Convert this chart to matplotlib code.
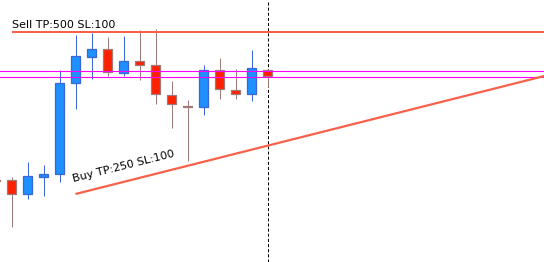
import matplotlib
matplotlib.use("Agg")
import matplotlib.pyplot as plt

# candle index and OHLC (price units)
idx = [-1, 0, 1, 2, 3, 4, 5, 6, 7, 8, 9, 10, 11, 12, 13, 14, 15, 16]
opens = [82, 82, 68, 85, 88, 179, 205, 213, 189, 201, 197, 167, 156.5, 155, 192, 172, 168, 192]
highs = [83, 85, 100, 97, 192, 227, 229, 225, 226, 232, 233, 181, 162, 197, 204, 193, 212, 192]
lows = [81, 35, 63, 66, 80, 153, 183, 186, 186, 182, 158, 134, 101, 147, 163, 163, 161, 175]
closes = [81.5, 68, 86, 88, 179, 206, 213, 190, 201, 197, 168, 158, 155.5, 192, 173, 168, 194, 186]

sell_level = 230
magenta_levels = [191.5, 185.5]
buy_x = [4, 34]
buy_y = [68, 188.8]
cursor_idx = 16

up_face, up_edge = "#1E90FF", "#3A66DC"
dn_face, dn_edge = "#FF2000", "#A07A78"
line_red = "#F9604A"

plt.rcParams["lines.scale_dashes"] = False
fig = plt.figure(figsize=(5.44, 2.62), dpi=100)
ax = fig.add_axes([0, 0, 1, 1])
ax.set_xlim(-11.5 / 16, 532.5 / 16)
ax.set_ylim(0, 262)
ax.axis("off")

# cursor line
ax.axvline(cursor_idx, color="black", lw=0.72, dashes=(2.2, 1.5), zorder=1)

for i, o, h, l, c in zip(idx, opens, highs, lows, closes):
    up = c > o
    edge = up_edge if up else dn_edge
    face = up_face if up else dn_face
    ax.vlines(i, l, h, color=edge, lw=0.72, zorder=2)
    ax.bar(i, max(abs(c - o), 1), bottom=min(o, c), width=0.58,
           color=face, edgecolor=edge, linewidth=0.9, zorder=3)

for lv in magenta_levels:
    ax.axhline(lv, color="#FF00FF", lw=0.8, zorder=4)

ax.plot([0, 40], [sell_level, sell_level], color=line_red, lw=1.44, zorder=5,
        solid_capstyle="butt")
ax.plot(buy_x, buy_y, color=line_red, lw=1.6, zorder=5, solid_capstyle="butt")

ax.text(0, 234, "Sell TP:500 SL:100", fontsize=8, family="DejaVu Sans",
        ha="left", va="baseline", color="black")
ax.text(3.875, 79.5, "Buy TP:250 SL:100", fontsize=8, family="DejaVu Sans",
        ha="left", va="baseline", rotation=14.1, rotation_mode="anchor",
        color="black")

fig.savefig("out.png", dpi=100)
